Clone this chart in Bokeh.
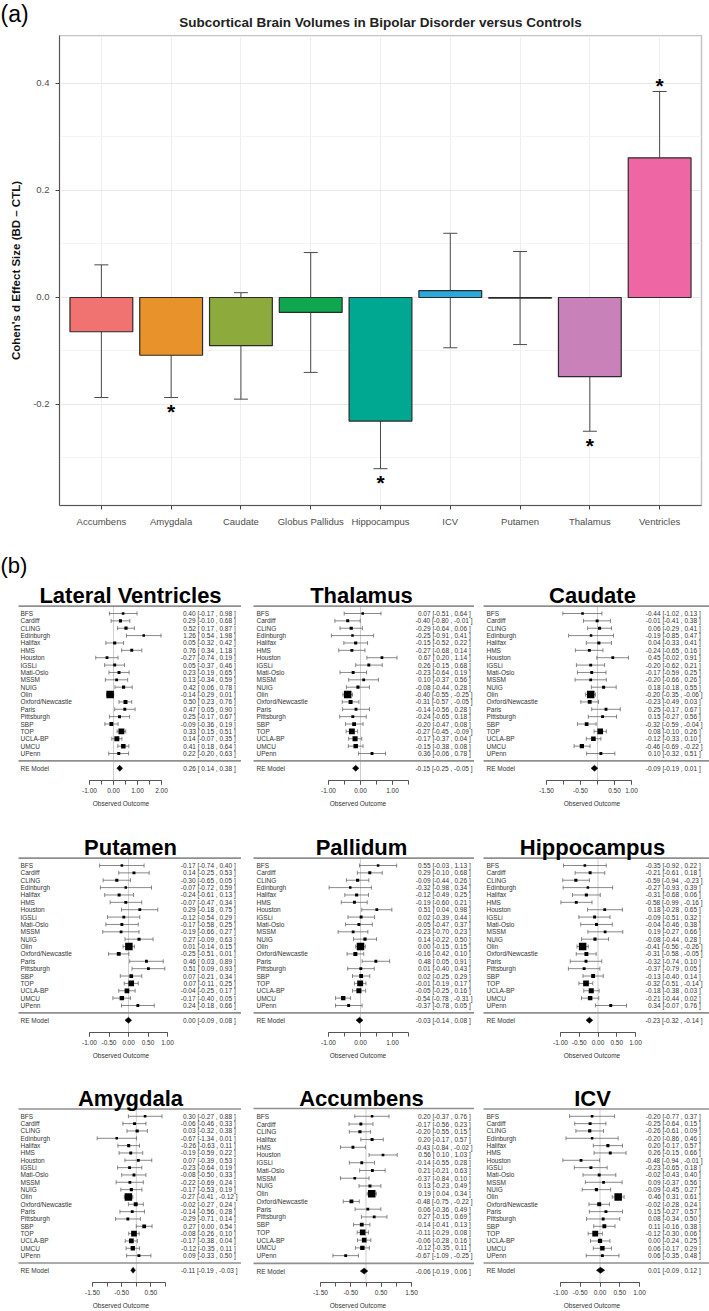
import numpy as np
from bokeh.plotting import figure
from bokeh.models import (Range1d, FactorRange, LinearAxis, FixedTicker, PrintfTickFormatter,
                          ColumnDataSource, Whisker, TeeHead)
from bokeh.layouts import column, row
from bokeh.embed import file_html
from bokeh.resources import INLINE
from bokeh.core.properties import value

FONT = "Liberation Sans"

# ---------------- (a) summary bar chart ----------------
categories = ["Accumbens", "Amygdala", "Caudate", "Globus Pallidus", "Hippocampus",
              "ICV", "Putamen", "Thalamus", "Ventricles"]
effect_d = [-0.064, -0.108, -0.090, -0.028, -0.231, 0.013, -0.001, -0.148, 0.261]
ci_lower = [-0.187, -0.187, -0.190, -0.140, -0.320, -0.094, -0.088, -0.250, 0.137]
ci_upper = [0.061, -0.028, 0.009, 0.084, -0.142, 0.120, 0.086, -0.047, 0.385]
significant = [False, True, False, False, True, False, False, True, True]
bar_colors = ["#F07372", "#E8922B", "#8DAA3C", "#10A650", "#00A891",
              "#29A9DC", "#00B0F6", "#C882B9", "#EE67A4"]

# ---------------- (b) forest plots ----------------
studies20 = ["BFS", "Cardiff", "CLING", "Edinburgh", "Halifax", "HMS", "Houston", "IGSLi",
             "Mati-Oslo", "MSSM", "NUIG", "Olin", "Oxford/Newcastle", "Paris", "Pittsburgh",
             "SBP", "TOP", "UCLA-BP", "UMCU", "UPenn"]
studies19 = ["BFS", "Cardiff", "CLING", "Halifax", "HMS", "Houston", "IGSLi",
             "Mati-Oslo", "MSSM", "NUIG", "Olin", "Oxford/Newcastle", "Paris", "Pittsburgh",
             "SBP", "TOP", "UCLA-BP", "UMCU", "UPenn"]

lv_est = [0.40, 0.29, 0.52, 1.26, 0.05, 0.76, -0.27, 0.05, 0.23, 0.13, 0.42, -0.14, 0.50, 0.47, 0.25, -0.09, 0.33, 0.14, 0.41, 0.22]
lv_lo = [-0.17, -0.10, 0.17, 0.54, -0.32, 0.34, -0.74, -0.37, -0.19, -0.34, 0.06, -0.29, 0.23, 0.05, -0.17, -0.36, 0.15, -0.07, 0.18, -0.20]
lv_hi = [0.98, 0.68, 0.87, 1.98, 0.42, 1.18, 0.19, 0.46, 0.65, 0.59, 0.78, 0.01, 0.76, 0.90, 0.67, 0.19, 0.51, 0.35, 0.64, 0.63]
lv_re = [0.26, 0.14, 0.38]

th_est = [0.07, -0.40, -0.29, -0.25, -0.15, -0.27, 0.67, 0.26, -0.23, 0.10, -0.08, -0.40, -0.31, -0.14, -0.24, -0.20, -0.27, -0.17, -0.15, 0.36]
th_lo = [-0.51, -0.80, -0.64, -0.91, -0.52, -0.68, 0.20, -0.15, -0.64, -0.37, -0.44, -0.55, -0.57, -0.56, -0.65, -0.47, -0.45, -0.37, -0.38, -0.06]
th_hi = [0.64, -0.01, 0.06, 0.41, 0.22, 0.14, 1.14, 0.68, 0.19, 0.56, 0.28, -0.25, -0.05, 0.28, 0.18, 0.08, -0.09, 0.04, 0.08, 0.78]
th_re = [-0.15, -0.25, -0.05]

ca_est = [-0.44, -0.01, 0.06, -0.19, 0.04, -0.24, 0.45, -0.20, -0.17, -0.20, 0.18, -0.20, -0.23, 0.25, 0.15, -0.32, 0.08, -0.12, -0.46, 0.10]
ca_lo = [-1.02, -0.41, -0.29, -0.85, -0.33, -0.65, -0.02, -0.62, -0.59, -0.66, -0.18, -0.35, -0.49, -0.17, -0.27, -0.59, -0.10, -0.33, -0.69, -0.32]
ca_hi = [0.13, 0.38, 0.41, 0.47, 0.41, 0.16, 0.91, 0.21, 0.25, 0.26, 0.55, -0.06, 0.03, 0.67, 0.56, -0.04, 0.26, 0.10, -0.22, 0.51]
ca_re = [-0.09, -0.19, 0.01]

pu_est = [-0.17, 0.14, -0.30, -0.07, -0.24, -0.07, 0.29, -0.12, -0.17, -0.19, 0.27, 0.01, -0.25, 0.46, 0.51, 0.07, 0.07, -0.04, -0.17, 0.24]
pu_lo = [-0.74, -0.25, -0.65, -0.72, -0.61, -0.47, -0.18, -0.54, -0.58, -0.66, -0.09, -0.14, -0.51, 0.03, 0.09, -0.21, -0.11, -0.25, -0.40, -0.18]
pu_hi = [0.40, 0.53, 0.05, 0.59, 0.13, 0.34, 0.75, 0.29, 0.25, 0.27, 0.63, 0.15, 0.01, 0.89, 0.93, 0.34, 0.25, 0.17, 0.05, 0.66]
pu_re = [0.00, -0.09, 0.08]

pa_est = [0.55, 0.29, -0.09, -0.32, -0.12, -0.19, 0.51, 0.02, -0.05, -0.23, 0.14, 0.00, -0.16, 0.48, 0.01, 0.02, -0.01, -0.05, -0.54, -0.37]
pa_lo = [-0.03, -0.10, -0.44, -0.98, -0.49, -0.60, 0.04, -0.39, -0.47, -0.70, -0.22, -0.15, -0.42, 0.05, -0.40, -0.25, -0.19, -0.25, -0.78, -0.78]
pa_hi = [1.13, 0.68, 0.26, 0.34, 0.25, 0.21, 0.98, 0.44, 0.37, 0.23, 0.50, 0.15, 0.10, 0.91, 0.43, 0.29, 0.17, 0.16, -0.31, 0.05]
pa_re = [-0.03, -0.14, 0.08]

hi_est = [-0.35, -0.21, -0.59, -0.27, -0.31, -0.58, 0.18, -0.09, -0.04, 0.19, -0.08, -0.41, -0.31, -0.32, -0.37, -0.13, -0.32, -0.18, -0.21, 0.34]
hi_lo = [-0.92, -0.61, -0.94, -0.93, -0.68, -0.99, -0.28, -0.51, -0.46, -0.27, -0.44, -0.56, -0.58, -0.74, -0.79, -0.40, -0.51, -0.38, -0.44, -0.07]
hi_hi = [0.22, 0.18, -0.23, 0.39, 0.06, -0.16, 0.65, 0.32, 0.38, 0.66, 0.28, -0.26, -0.05, 0.10, 0.05, 0.14, -0.14, 0.03, 0.02, 0.76]
hi_re = [-0.23, -0.32, -0.14]

am_est = [0.30, -0.06, 0.03, -0.67, -0.26, -0.19, 0.07, -0.23, -0.08, -0.22, -0.17, -0.27, -0.02, -0.14, -0.29, 0.27, -0.08, -0.17, -0.12, 0.09]
am_lo = [-0.27, -0.46, -0.32, -1.34, -0.63, -0.59, -0.39, -0.64, -0.50, -0.69, -0.53, -0.41, -0.27, -0.56, -0.71, 0.00, -0.26, -0.38, -0.35, -0.33]
am_hi = [0.88, 0.33, 0.38, 0.01, 0.11, 0.22, 0.53, 0.19, 0.33, 0.24, 0.19, -0.12, 0.24, 0.28, 0.14, 0.54, 0.10, 0.04, 0.11, 0.50]
am_re = [-0.11, -0.19, -0.03]

ac_est = [0.20, -0.17, -0.20, 0.20, -0.43, 0.56, -0.14, 0.21, -0.37, 0.13, 0.19, -0.48, 0.06, 0.27, -0.14, -0.11, -0.06, -0.12, -0.67]
ac_lo = [-0.37, -0.56, -0.55, -0.17, -0.84, 0.10, -0.55, -0.21, -0.84, -0.23, 0.04, -0.75, -0.36, -0.15, -0.41, -0.29, -0.28, -0.35, -1.09]
ac_hi = [0.76, 0.23, 0.15, 0.57, -0.02, 1.03, 0.28, 0.63, 0.10, 0.49, 0.34, -0.22, 0.49, 0.69, 0.13, 0.08, 0.16, 0.11, -0.25]
ac_re = [-0.06, -0.19, 0.06]

icv_est = [-0.20, -0.25, -0.26, -0.20, 0.20, 0.26, -0.48, -0.23, -0.02, 0.09, -0.09, 0.46, -0.02, 0.15, 0.08, 0.11, -0.12, 0.00, 0.06, 0.06]
icv_lo = [-0.77, -0.64, -0.61, -0.86, -0.17, -0.15, -0.94, -0.65, -0.43, -0.37, -0.45, 0.31, -0.28, -0.27, -0.34, -0.16, -0.30, -0.24, -0.17, -0.35]
icv_hi = [0.37, 0.15, 0.09, 0.46, 0.57, 0.66, -0.01, 0.18, 0.40, 0.56, 0.27, 0.61, 0.24, 0.57, 0.50, 0.38, 0.06, 0.25, 0.29, 0.48]
icv_re = [0.01, -0.09, 0.12]

panel_titles = ["Lateral Ventricles", "Thalamus", "Caudate", "Putamen", "Pallidum",
                "Hippocampus", "Amygdala", "Accumbens", "ICV"]
axis_limits = [(-1.0, 2.0), (-1.0, 1.5), (-1.5, 1.0), (-1.0, 1.0), (-1.0, 1.5),
               (-1.0, 1.0), (-1.5, 1.0), (-1.5, 1.5), (-1.0, 1.0)]
axis_labels = [[-1, 0, 1, 2], [-1, 0, 1], [-1.5, -0.5, 0.5, 1.0], [-1, -0.5, 0, 0.5, 1],
               [-1, 0, 1], [-1, -0.5, 0, 0.5, 1], [-1.5, -0.5, 0.5], [-1.5, -0.5, 0.5, 1.5],
               [-1, -0.5, 0, 0.5, 1]]

# ---------------- layout constants (page pixels) ----------------
PAGE_W = 709
HEADER_H = 35
AXIS_PX = [(89, 161), (328, 408), (546, 631), (89, 167), (328, 408), (560, 635),
           (92, 165), (320, 411), (560, 639)]
COL_LEFT = [0, 241, 474]
COL_W = [241, 233, 235]
NAME_X = [20, 256, 486]
VALUE_X = [237, 472, 702]
TITLE_X = [130, 361, 592]
RULE_X = [18, 253, 483]
ROW_FRAMES = [(230, 41), (211, 41), (210, 28)]   # (frame height, bottom border)

# ---------------- header strip: panel tag + title ----------------
hdr = figure(width=PAGE_W, height=HEADER_H, x_range=Range1d(0, PAGE_W),
             y_range=Range1d(HEADER_H, 0), x_axis_type=None, y_axis_type=None,
             output_backend="svg", toolbar_location=None, min_border=0)
hdr.outline_line_color = None
hdr.text(x=[0], y=[0], text=["(a)"], text_font=value(FONT), text_font_size="23px",
         text_align="left", text_baseline="top", text_color="black")
hdr.text(x=[380], y=[22], text=["Subcortical Brain Volumes in Bipolar Disorder versus Controls"],
         text_font=value(FONT), text_font_size="13.5px", text_font_style="bold",
         text_align="center", text_baseline="middle", text_color="#222222")

# ---------------- figure (a) ----------------
FA_H = 515
FA_BOTTOM, FA_LEFT, FA_RIGHT = 45, 59, 8
Y_LO, Y_HI = -0.3888, 0.4897
src = ColumnDataSource(dict(cat=categories, d=effect_d, lo=ci_lower, hi=ci_upper, color=bar_colors))

pa = figure(width=PAGE_W, height=FA_H, output_backend="svg", toolbar_location=None,
            title=None,
            x_range=FactorRange(factors=categories, range_padding=0.1, range_padding_units="absolute"),
            y_range=Range1d(Y_LO, Y_HI),
            min_border_left=FA_LEFT, min_border_right=FA_RIGHT,
            min_border_top=0, min_border_bottom=FA_BOTTOM)
pa.outline_line_color = "#C4C4C4"
pa.outline_line_width = 1.5
pa.background_fill_color = "white"

pa.yaxis.ticker = FixedTicker(ticks=[-0.2, 0.0, 0.2, 0.4], minor_ticks=[-0.3, -0.1, 0.1, 0.3])
pa.yaxis.formatter = PrintfTickFormatter(format="%.1f")
pa.yaxis.axis_label = "Cohen's d Effect Size (BD \u2013 CTL)"
pa.yaxis.axis_label_text_font = FONT
pa.yaxis.axis_label_text_font_size = "11.5px"
pa.yaxis.axis_label_text_font_style = "bold"
pa.yaxis.axis_label_text_color = "#111111"
pa.yaxis.axis_label_standoff = 8
for ax in (pa.xaxis[0], pa.yaxis[0]):
    ax.axis_line_color = "#555555"
    ax.axis_line_width = 1
    ax.major_tick_line_color = "#444444"
    ax.major_tick_out = 4
    ax.major_tick_in = 0
    ax.minor_tick_line_color = None
    ax.major_label_text_font = FONT
    ax.major_label_text_font_size = "9.5px"
    ax.major_label_text_color = "#4D4D4D"
pa.yaxis.major_label_standoff = 6
pa.xaxis.major_label_standoff = 6
pa.ygrid.grid_line_color = "#E8E8E8"
pa.ygrid.minor_grid_line_color = "#F3F3F3"
pa.xgrid.grid_line_color = "#EEEEEE"

pa.vbar(x="cat", top="d", bottom=0, width=0.9, source=src, fill_color="color",
        line_color="#2B2B2B", line_width=1.2)
pa.add_layout(Whisker(source=src, base="cat", upper="hi", lower="lo",
                      line_color="#4A4A4A", line_width=1,
                      upper_head=TeeHead(size=14, line_color="#4A4A4A", line_width=1),
                      lower_head=TeeHead(size=14, line_color="#4A4A4A", line_width=1)))

star_x, star_y = [], []
for c, d, l, h, s in zip(categories, effect_d, ci_lower, ci_upper, significant):
    if s:
        star_x.append(c)
        star_y.append(h + 0.012 if d > 0 else l - 0.026)
pa.text(x=star_x, y=star_y, text=["*"] * len(star_x), text_font=value(FONT),
        text_font_size="21px", text_font_style="bold", text_align="center",
        text_baseline="middle", text_color="black")


# ---------------- forest panels ----------------
def ci_text(e, l, h):
    return f"{e:.2f} [{l:5.2f} , {h:5.2f} ]"


def forest(i, col, names, est, lo, hi, re, frame_h, bottom_h, tag=None):
    title = panel_titles[i]
    ax_lo, ax_hi = axis_limits[i]
    labs = axis_labels[i]
    px0, px1 = AXIS_PX[i]
    left, width = COL_LEFT[col], COL_W[col]
    k = len(names)
    sx = (px1 - px0) / (ax_hi - ax_lo)

    def xd(px):  # page pixel -> data x
        return ax_lo + (px - px0) / sx

    x0 = xd(left)
    x1 = xd(left + width)
    sy = 140.0 / (k - 1)
    y0 = 1 - 27.0 / sy
    y1 = y0 + frame_h / sy
    p = figure(width=width, height=frame_h + bottom_h, x_range=Range1d(x0, x1),
               y_range=Range1d(y0, y1), x_axis_type=None, y_axis_type=None,
               output_backend="svg", toolbar_location=None,
               min_border_left=0, min_border_right=0, min_border_top=0,
               min_border_bottom=bottom_h)
    p.outline_line_color = None
    ys = list(range(k, 0, -1))

    # reference line at 0 and separators
    p.segment(x0=[0], y0=[k + 1], x1=[0], y1=[y0], line_color="#CFCFCF", line_width=1)
    p.segment(x0=[xd(RULE_X[col])] * 2, y0=[k + 1, 0], x1=[x1] * 2, y1=[k + 1, 0],
              line_color="#8F8F8F", line_width=1.6)

    # confidence intervals
    cap = 2.0 / sy
    p.segment(x0=lo, y0=ys, x1=hi, y1=ys, line_color="#6A6A6A", line_width=0.8)
    p.segment(x0=lo, y0=[y - cap for y in ys], x1=lo, y1=[y + cap for y in ys],
              line_color="#6A6A6A", line_width=0.8)
    p.segment(x0=hi, y0=[y - cap for y in ys], x1=hi, y1=[y + cap for y in ys],
              line_color="#6A6A6A", line_width=0.8)

    # squares sized by inverse-variance weight
    w = np.array([1.0 / ((h - l) / 3.92) ** 2 for l, h in zip(lo, hi)])
    sizes = 2.5 + 5.0 * (w - w.min()) / (w.max() - w.min())
    p.scatter(x=est, y=ys, marker="square", size=list(sizes), fill_color="black",
              line_color=None)

    # summary diamond
    d = 3.0 / sy
    p.patch(x=[re[1], re[0], re[2], re[0]], y=[-1, -1 + d, -1, -1 - d],
            fill_color="black", line_color="black", line_width=0.5)

    # texts
    all_names = names + ["RE Model"]
    all_y = ys + [-1]
    vals = [ci_text(e, l, h) for e, l, h in zip(est, lo, hi)] + [ci_text(*re)]
    p.text(x=[xd(NAME_X[col])] * len(all_names), y=all_y, text=all_names,
           text_font=value(FONT), text_font_size="6.5px", text_baseline="middle",
           text_align="left", text_color="#333333")
    p.text(x=[xd(VALUE_X[col])] * len(vals), y=all_y, text=vals,
           text_font=value(FONT), text_font_size="6.5px", text_baseline="middle",
           text_align="right", text_color="#333333")
    p.text(x=[xd(TITLE_X[col])], y=[y0 + 185 / sy], text=[title], text_font=value(FONT),
           text_font_size="22px", text_font_style="bold", text_align="center",
           text_baseline="alphabetic", text_color="black")
    if tag:
        p.text(x=[xd(0)], y=[y0 + 215 / sy], text=[tag], text_font=value(FONT),
               text_font_size="22px", text_align="left", text_baseline="middle",
               text_color="black")

    minor = [round(v, 2) for v in np.arange(ax_lo, ax_hi + 0.01, 0.5)]
    axis = LinearAxis(bounds=(ax_lo, ax_hi),
                      ticker=FixedTicker(ticks=labs, minor_ticks=minor),
                      formatter=PrintfTickFormatter(format="%.2f"),
                      axis_label="Observed Outcome")
    axis.axis_line_color = "#555555"
    axis.major_tick_line_color = "#555555"
    axis.minor_tick_line_color = "#555555"
    axis.major_tick_out = 4
    axis.major_tick_in = 0
    axis.minor_tick_out = 4
    axis.minor_tick_in = 0
    axis.major_label_standoff = 3
    axis.major_label_text_font = FONT
    axis.major_label_text_font_size = "6.5px"
    axis.major_label_text_color = "#333333"
    axis.axis_label_standoff = 4
    axis.axis_label_text_font = FONT
    axis.axis_label_text_font_size = "6.5px"
    axis.axis_label_text_font_style = "normal"
    axis.axis_label_text_color = "#333333"
    p.add_layout(axis, "below")
    return p


panel_data = [
    (studies20, lv_est, lv_lo, lv_hi, lv_re),
    (studies20, th_est, th_lo, th_hi, th_re),
    (studies20, ca_est, ca_lo, ca_hi, ca_re),
    (studies20, pu_est, pu_lo, pu_hi, pu_re),
    (studies20, pa_est, pa_lo, pa_hi, pa_re),
    (studies20, hi_est, hi_lo, hi_hi, hi_re),
    (studies20, am_est, am_lo, am_hi, am_re),
    (studies19, ac_est, ac_lo, ac_hi, ac_re),
    (studies20, icv_est, icv_lo, icv_hi, icv_re),
]

rows = []
for r in range(3):
    figs = []
    for c in range(3):
        i = r * 3 + c
        names, est, lo, hi, re = panel_data[i]
        fh, bh = ROW_FRAMES[r]
        figs.append(forest(i, c, names, est, lo, hi, re, fh, bh,
                           tag="(b)" if i == 0 else None))
    rows.append(row(*figs, spacing=0))

layout = column(row(hdr, spacing=0), pa, *rows, spacing=0)
open("out.html", "w").write(file_html(layout, INLINE))
